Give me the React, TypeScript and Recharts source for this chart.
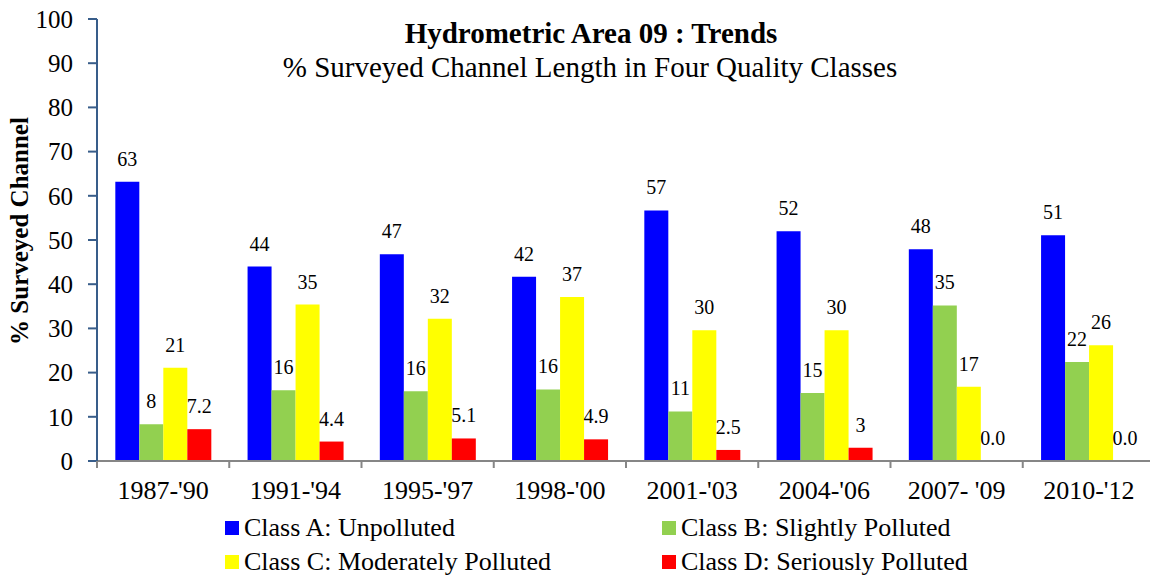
import { Bar, BarChart, LabelList, Rectangle, XAxis, YAxis } from "recharts";

const periods = ["1987-'90", "1991-'94", "1995-'97", "1998-'00", "2001-'03", "2004-'06", "2007- '09", "2010-'12"];
const classA = [63.2, 44.0, 46.8, 41.7, 56.7, 52.0, 47.9, 51.1];
const classB = [8.3, 16.0, 15.8, 16.2, 11.2, 15.4, 35.2, 22.4];
const classC = [21.1, 35.4, 32.2, 37.1, 29.6, 29.6, 16.8, 26.2];
const classD = [7.2, 4.4, 5.1, 4.9, 2.5, 3.0, 0.0, 0.0];
const yTicks = [0, 10, 20, 30, 40, 50, 60, 70, 80, 90, 100];

const FONT = '"Liberation Serif", "Times New Roman", serif';
const CHART_W = 1155;
const AXIS_X = 97;
const BAND = (CHART_W - AXIS_X) / periods.length;

const data = periods.map((p, i) => ({
  period: p,
  a: classA[i],
  b: classB[i],
  c: classC[i],
  d: classD[i],
}));

const series = [
  { key: "a", name: "Class A: Unpolluted", color: "#0000FF" },
  { key: "b", name: "Class B: Slightly Polluted", color: "#92D050" },
  { key: "c", name: "Class C: Moderately Polluted", color: "#FFFF00" },
  { key: "d", name: "Class D: Seriously Polluted", color: "#FF0000" },
];

const roundLabel = (v: number) => String(Math.round(v));
const decimalLabel = (v: number) =>
  v === 0 ? "0.0" : Number.isInteger(v) ? String(v) : v.toFixed(1);

function makeLabel(fmt: (v: number) => string) {
  return (props: any) => {
    const { x, y, width, height, value } = props;
    const v = Number(value);
    // zero bars are 1px tall, so measure from their bottom
    const top = v === 0 ? Number(y) + Number(height) : Number(y);
    return (
      <text x={Number(x) + Number(width) / 2} y={top - 16} textAnchor="middle" fontSize={20} fontFamily={FONT} fill="#000">
        {fmt(v)}
      </text>
    );
  };
}

// zero-value bars keep a 1px slot so their label still renders, but draw nothing
const barShape = (props: any) =>
  Number(props.height) <= 1 ? <g /> : <Rectangle {...props} />;

function PeriodTick(props: any) {
  const { x, y, payload } = props;
  return (
    <g>
      <line x1={x - BAND / 2} x2={x - BAND / 2} y1={y} y2={y + 7} stroke="#868686" strokeWidth={2} />
      <text x={x} y={y + 38} textAnchor="middle" fontSize={26} fontFamily={FONT} fill="#000">
        {payload.value}
      </text>
    </g>
  );
}

export default function App() {
  return (
    <div style={{ position: "absolute", left: 0, top: 0, width: 1150, height: 578, overflow: "hidden", background: "#fff" }}>
      <BarChart
        width={CHART_W}
        height={578}
        data={data}
        margin={{ top: 19, right: 0, bottom: 0, left: 0 }}
        barCategoryGap="13.85%"
        barGap={0}
      >
        <XAxis
          dataKey="period"
          height={117}
          interval={0}
          tickSize={0}
          tickMargin={0}
          tickLine={false}
          axisLine={{ stroke: "#868686", strokeWidth: 2 }}
          tick={<PeriodTick />}
        />
        <YAxis
          width={AXIS_X}
          domain={[0, 100]}
          ticks={yTicks}
          interval={0}
          tickSize={9}
          tickMargin={15}
          axisLine={{ stroke: "#385D8A", strokeWidth: 2 }}
          tickLine={{ stroke: "#385D8A", strokeWidth: 2 }}
          tick={{ fontSize: 25, fontFamily: FONT, fill: "#000" }}
        />
        {series.map((s) => (
          <Bar
            key={s.key}
            dataKey={s.key}
            name={s.name}
            fill={s.color}
            isAnimationActive={false}
            minPointSize={s.key === "d" ? 1 : 0}
            shape={barShape}
          >
            <LabelList dataKey={s.key} content={makeLabel(s.key === "d" ? decimalLabel : roundLabel)} />
          </Bar>
        ))}
      </BarChart>
      <svg width={1150} height={578} style={{ position: "absolute", left: 0, top: 0, pointerEvents: "none" }}>
        <text x={591} y={43} textAnchor="middle" fontSize={29} fontWeight="bold" fontFamily={FONT} fill="#000">
          Hydrometric Area 09 : Trends
        </text>
        <text x={590} y={77} textAnchor="middle" fontSize={29} fontFamily={FONT} fill="#000">
          % Surveyed Channel Length in Four Quality Classes
        </text>
        <text
          x={28}
          y={231}
          textAnchor="middle"
          fontSize={25}
          fontWeight="bold"
          fontFamily={FONT}
          fill="#000"
          transform="rotate(-90 28 231)"
        >
          % Surveyed Channel
        </text>
        {series.map((s, i) => {
          const lx = i % 2 === 0 ? 225 : 662;
          const ly = i < 2 ? 521 : 555;
          return (
            <g key={s.key}>
              <rect x={lx} y={ly} width={14} height={14} fill={s.color} />
              <text x={lx + 19} y={ly + 15} fontSize={26} fontFamily={FONT} fill="#000">
                {s.name}
              </text>
            </g>
          );
        })}
      </svg>
    </div>
  );
}
